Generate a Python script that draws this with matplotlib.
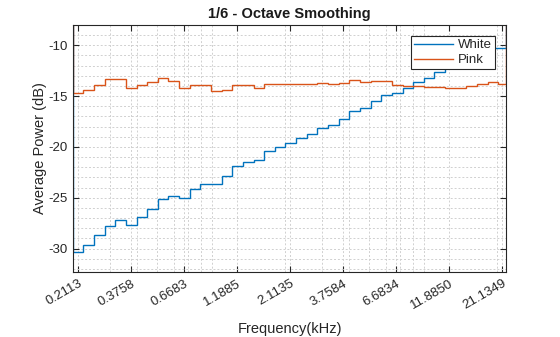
import numpy as np
import matplotlib
matplotlib.use("Agg")
import matplotlib.pyplot as plt
from matplotlib.ticker import LogLocator, MultipleLocator, NullFormatter

plt.rcParams['font.family'] = ['Liberation Sans', 'DejaVu Sans']
plt.rcParams['axes.unicode_minus'] = False

# 1/6 octave bands (kHz): edges between the band centres
f_lo, f_hi = 0.2, 22.05
f_ref = 0.2113
band_edges = [f_lo] + [f_ref * 2 ** ((k + 0.5) / 6) for k in range(40)] + [f_hi]

# average power per band (dB)
white = [-30.35, -29.67, -28.69, -27.8, -27.2, -27.7, -26.9, -26.1, -25.16, -24.86,
         -25.06, -24.18, -23.6, -23.6, -22.9, -21.92, -21.43, -21.24, -20.35, -19.96,
         -19.57, -19.08, -18.69, -18.1, -17.8, -17.22, -16.43, -16.14, -15.45, -14.86,
         -14.67, -14.18, -13.6, -13.2, -12.6, -12.1, -11.6, -11.1, -10.7, -10.3, -10.3]
pink = [-14.65, -14.4, -13.9, -13.3, -13.3, -14.2, -13.9, -13.6, -13.2, -13.5,
        -14.2, -13.9, -13.9, -14.45, -14.35, -13.9, -13.9, -14.2, -13.8, -13.8,
        -13.8, -13.8, -13.8, -13.7, -13.8, -13.7, -13.4, -13.6, -13.5, -13.5,
        -13.9, -14.0, -14.0, -14.1, -14.1, -14.2, -14.2, -14.0, -13.8, -13.6, -13.8]

xtick_vals = [0.2113, 0.3758, 0.6683, 1.1885, 2.1135, 3.7584, 6.6834, 11.8850, 21.1349]
ytick_vals = [-30, -25, -20, -15, -10]

fig = plt.figure(figsize=(5.6, 3.37), dpi=100)
ax = fig.add_axes([0.1304, 0.1929, 0.7732, 0.7329])

ax.stairs(white, band_edges, color='#0072BD', lw=1.0, label='White')
ax.stairs(pink, band_edges, color='#D95319', lw=1.0, label='Pink')

ax.set_xscale('log')
ax.set_xlim(f_lo, f_hi)
ax.set_ylim(-32.3, -8.0)

ax.set_xticks(xtick_vals)
ax.set_xticklabels(['%.4f' % v for v in xtick_vals], rotation=30, ha='right',
                   rotation_mode='anchor')
ax.xaxis.set_minor_locator(LogLocator(base=10, subs=np.arange(2, 10)))
ax.xaxis.set_minor_formatter(NullFormatter())
ax.set_yticks(ytick_vals)
ax.yaxis.set_minor_locator(MultipleLocator(1))

ax.tick_params(which='major', direction='in', length=4, width=0.8, top=True, right=True,
               labelsize=9.5, colors='#262626', pad=4)
ax.tick_params(which='minor', length=0, top=True, right=True)

grid_kw = dict(color='#d0d0d0', lw=0.7, linestyle=(0, (2, 2)))
ax.grid(True, which='major', **grid_kw)
ax.grid(True, which='minor', **grid_kw)
ax.set_axisbelow(True)

for s in ax.spines.values():
    s.set_color('#262626')
    s.set_linewidth(0.8)

ax.set_title('1/6 - Octave Smoothing', fontsize=10.5, fontweight='bold', color='#1a1a1a', pad=5)
ax.set_xlabel('Frequency(kHz)', fontsize=10.5, color='#262626', labelpad=7.5)
ax.set_ylabel('Average Power (dB)', fontsize=10.5, color='#262626', labelpad=1)

leg = ax.legend(loc='upper right', fontsize=9.5, frameon=True, fancybox=False,
                borderaxespad=0.85, handlelength=3.0, handletextpad=0.35,
                labelspacing=0.2, borderpad=0.22, labelcolor='#262626')
leg.get_frame().set_edgecolor('#262626')
leg.get_frame().set_linewidth(0.8)
leg.get_frame().set_alpha(1)

fig.savefig('out.png', dpi=100)
